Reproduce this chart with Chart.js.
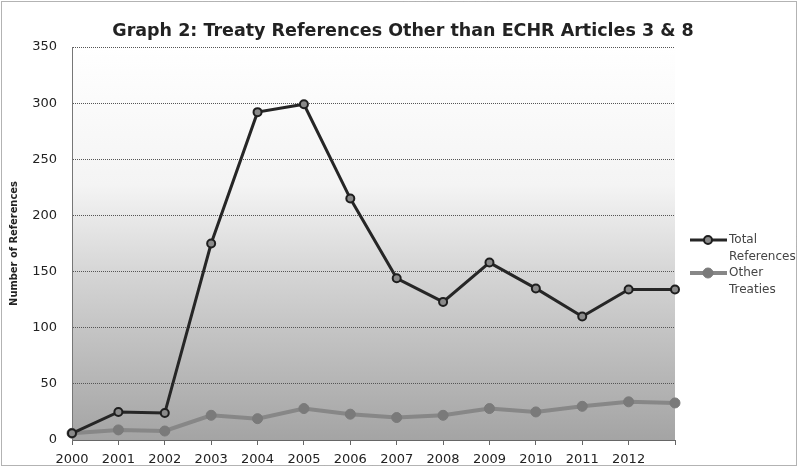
<!DOCTYPE html>
<html>
<head>
<meta charset="utf-8">
<script src="https://cdn.jsdelivr.net/npm/chart.js@4"></script>
<style>
  html, body { margin: 0; padding: 0; background: #fff; }
  #wrap { position: relative; width: 798px; height: 467px; }
</style>
</head>
<body>
<div id="wrap"><canvas id="chart" width="798" height="467"></canvas></div>
<script>
// Data
const years = ["2000", "2001", "2002", "2003", "2004", "2005", "2006", "2007", "2008", "2009", "2010", "2011", "2012", ""];
const totalReferences = [6, 25, 24, 175, 292, 299, 215, 144, 123, 158, 135, 110, 134, 134];
const otherTreaties = [6, 9, 8, 22, 19, 28, 23, 20, 22, 28, 25, 30, 34, 33];
const yTicks = [0, 50, 100, 150, 200, 250, 300, 350];
const chartTitle = "Graph 2: Treaty References Other than ECHR Articles 3 & 8";

const FONT = "'DejaVu Sans', sans-serif";

// plot area background: white at top fading to grey at the bottom
const plotBackground = {
  id: "plotBackground",
  beforeDraw(chart) {
    const { ctx, chartArea: a } = chart;
    const g = ctx.createLinearGradient(0, a.top, 0, a.bottom);
    g.addColorStop(0, "#ffffff");
    g.addColorStop(0.35, "#f4f4f4");
    g.addColorStop(0.6, "#d2d2d2");
    g.addColorStop(1, "#a4a4a4");
    ctx.save();
    ctx.fillStyle = g;
    ctx.fillRect(a.left, a.top, a.right - a.left, a.bottom - a.top);
    ctx.restore();
  },
  afterDraw(chart) {
    const { ctx, width, height } = chart;
    ctx.save();
    // title, centred a bit right of the plot like the original
    ctx.fillStyle = "#222";
    ctx.font = "bold 17.5px " + FONT;
    ctx.textAlign = "center";
    ctx.textBaseline = "middle";
    ctx.fillText(chartTitle, 403, 31);
    // dotted frame around the whole chart
    ctx.strokeStyle = "#666";
    ctx.setLineDash([1, 1]);
    ctx.lineWidth = 1;
    ctx.strokeRect(1.5, 1.5, width - 3, height - 3);
    ctx.restore();
  }
};

// legend with wrapped labels, drawn on the right
const wrappedLegend = {
  id: "wrappedLegend",
  afterDraw(chart) {
    const { ctx } = chart;
    const entries = [
      { lines: ["Total", "References"], y: 240 },
      { lines: ["Other", "Treaties"], y: 273 }
    ];
    ctx.save();
    entries.forEach((e, i) => {
      const ds = chart.data.datasets[i];
      ctx.strokeStyle = ds.borderColor;
      ctx.lineWidth = ds.borderWidth;
      ctx.beginPath();
      ctx.moveTo(690, e.y);
      ctx.lineTo(727, e.y);
      ctx.stroke();
      ctx.beginPath();
      ctx.arc(708, e.y, ds.pointRadius, 0, Math.PI * 2);
      ctx.fillStyle = ds.pointBackgroundColor;
      ctx.fill();
      ctx.strokeStyle = ds.pointBorderColor;
      ctx.lineWidth = ds.pointBorderWidth;
      ctx.stroke();
      ctx.fillStyle = "#444";
      ctx.font = "12px " + FONT;
      ctx.textBaseline = "middle";
      ctx.textAlign = "left";
      e.lines.forEach((t, k) => ctx.fillText(t, 729, e.y + k * 17));
    });
    ctx.restore();
  }
};

new Chart(document.getElementById("chart"), {
  type: "line",
  data: {
    labels: years,
    datasets: [
      {
        label: "Total References",
        data: totalReferences,
        borderColor: "#262626",
        borderWidth: 3,
        pointRadius: 4,
        pointBackgroundColor: "#8a8a8a",
        pointBorderColor: "#1e1e1e",
        pointBorderWidth: 2,
        tension: 0
      },
      {
        label: "Other Treaties",
        data: otherTreaties,
        borderColor: "#878787",
        borderWidth: 4,
        pointRadius: 5,
        pointBackgroundColor: "#7a7a7a",
        pointBorderColor: "#7a7a7a",
        pointBorderWidth: 1,
        tension: 0
      }
    ]
  },
  options: {
    responsive: false,
    animation: false,
    layout: { padding: { left: 0, right: 123, top: 47, bottom: 0 } },
    plugins: {
      legend: { display: false },
      tooltip: { enabled: false },
      title: { display: false }
    },
    scales: {
      x: {
        offset: false,
        grid: { drawOnChartArea: false, drawTicks: true, tickLength: 5, color: "#666" },
        border: { color: "#666", width: 1 },
        ticks: {
          color: "#222",
          font: { family: FONT, size: 13 },
          padding: 7,
          maxRotation: 0,
          autoSkip: false
        },
        afterFit(s) { s.height = 27; }
      },
      y: {
        min: 0,
        max: 350,
        afterBuildTicks(s) { s.ticks = yTicks.map(v => ({ value: v })); },
        grid: { color: "#555", lineWidth: 1, drawTicks: false },
        border: { color: "#777", dash: [1, 1] },
        ticks: {
          color: "#222",
          font: { family: FONT, size: 13 },
          padding: 15
        },
        title: {
          display: true,
          text: "Number of References",
          color: "#222",
          font: { family: "'DejaVu Sans Condensed', " + FONT, size: 11, weight: "bold" },
          padding: { top: 8, bottom: 0 }
        },
        afterFit(s) { s.width = 72; }
      }
    }
  },
  plugins: [plotBackground, wrappedLegend]
});
</script>
</body>
</html>
